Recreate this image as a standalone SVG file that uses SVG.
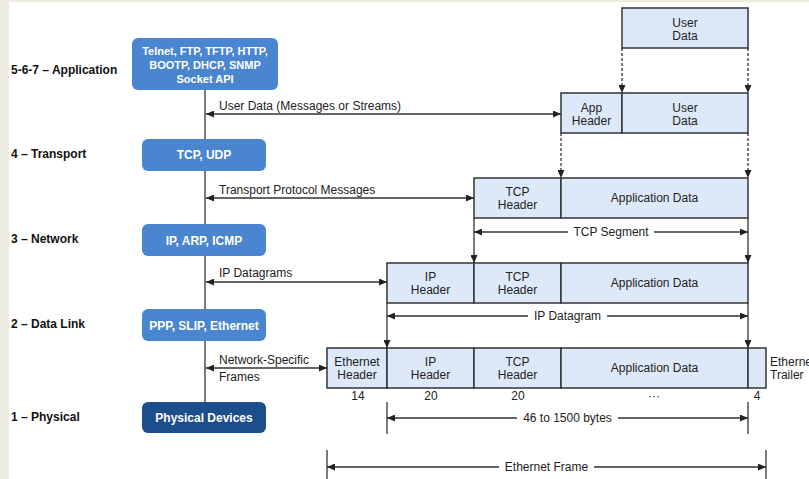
<svg xmlns="http://www.w3.org/2000/svg" width="809" height="479" viewBox="0 0 809 479">
<style>
.lay{font-family:"Liberation Sans",Arial,sans-serif;font-size:12px;font-weight:bold;fill:#111}
.bt{font-family:"Liberation Sans",Arial,sans-serif;font-size:12px;font-weight:bold;fill:#fff;text-anchor:middle}
.bt11{font-size:11px}
.pb{fill:#4a86cf}
.pd{fill:#1d4e8c}
.t{font-family:"Liberation Sans",Arial,sans-serif;font-size:12px;fill:#222}
.c{text-anchor:middle}
.cell{fill:#dde9f9;stroke:#333;stroke-width:1.5}
.ln{stroke:#333;stroke-width:1.3;fill:none}
.da{stroke:#333;stroke-width:1.3;fill:none;stroke-dasharray:3 2}
</style>
<defs>
<marker id="ah" viewBox="0 0 8 7" refX="8" refY="3.5" markerWidth="8" markerHeight="7" markerUnits="userSpaceOnUse" orient="auto-start-reverse">
<path d="M0,0 L8,3.5 L0,7 z" fill="#222"/>
</marker>
</defs>
<rect x="0" y="0" width="809" height="479" fill="#fff"/>
<rect x="0" y="0" width="9" height="479" fill="#eeece2"/>
<rect x="0" y="0" width="809" height="2" fill="#eeece2"/>

<g id="layer-labels">
<text class="lay" x="11" y="74">5-6-7 – Application</text>
<text class="lay" x="11" y="158">4 – Transport</text>
<text class="lay" x="11" y="243">3 – Network</text>
<text class="lay" x="11" y="328">2 – Data Link</text>
<text class="lay" x="11" y="421">1 – Physical</text>
</g>

<g id="connectors">
<line class="ln" x1="205" y1="90" x2="205" y2="402"/>
<line class="ln" x1="206" y1="114" x2="561" y2="114" marker-start="url(#ah)" marker-end="url(#ah)"/>
<line class="ln" x1="206" y1="198" x2="474" y2="198" marker-start="url(#ah)" marker-end="url(#ah)"/>
<line class="ln" x1="206" y1="282" x2="387" y2="282" marker-start="url(#ah)" marker-end="url(#ah)"/>
<line class="ln" x1="206" y1="368" x2="327" y2="368" marker-start="url(#ah)" marker-end="url(#ah)"/>
<line class="da" x1="622" y1="48" x2="622" y2="93" marker-end="url(#ah)"/>
<line class="da" x1="748" y1="48" x2="748" y2="93" marker-end="url(#ah)"/>
<line class="da" x1="561" y1="133" x2="561" y2="178" marker-end="url(#ah)"/>
<line class="da" x1="748" y1="133" x2="748" y2="178" marker-end="url(#ah)"/>
<line class="ln" x1="474" y1="218" x2="474" y2="263" marker-end="url(#ah)"/>
<line class="ln" x1="748" y1="218" x2="748" y2="263" marker-end="url(#ah)"/>
<line class="ln" x1="387" y1="303" x2="387" y2="348" marker-end="url(#ah)"/>
<line class="ln" x1="748" y1="303" x2="748" y2="348" marker-end="url(#ah)"/>
<line class="ln" x1="474" y1="232" x2="568" y2="232" marker-start="url(#ah)"/>
<line class="ln" x1="654" y1="232" x2="748" y2="232" marker-end="url(#ah)"/>
<line class="ln" x1="387" y1="316" x2="528" y2="316" marker-start="url(#ah)"/>
<line class="ln" x1="607" y1="316" x2="748" y2="316" marker-end="url(#ah)"/>
<line class="ln" x1="387" y1="402" x2="387" y2="434"/>
<line class="ln" x1="748" y1="402" x2="748" y2="434"/>
<line class="ln" x1="387" y1="418" x2="517" y2="418" marker-start="url(#ah)"/>
<line class="ln" x1="618" y1="418" x2="748" y2="418" marker-end="url(#ah)"/>
<line class="ln" x1="327" y1="450" x2="327" y2="479"/>
<line class="ln" x1="766" y1="450" x2="766" y2="479"/>
<line class="ln" x1="327" y1="467" x2="499" y2="467" marker-start="url(#ah)"/>
<line class="ln" x1="594" y1="467" x2="766" y2="467" marker-end="url(#ah)"/>
<text class="t" x="219" y="110">User Data (Messages or Streams)</text>
<text class="t" x="219" y="194">Transport Protocol Messages</text>
<text class="t" x="219" y="277">IP Datagrams</text>
<text class="t" x="219" y="363.5">Network-Specific</text>
<text class="t" x="219" y="380.5">Frames</text>
<text class="t c" x="611" y="236">TCP Segment</text>
<text class="t c" x="567.5" y="320">IP Datagram</text>
<text class="t c" x="567.5" y="422">46 to 1500 bytes</text>
<text class="t c" x="546.5" y="471">Ethernet Frame</text>
</g>

<g id="node-application">
<rect class="pb" x="132" y="38" width="146" height="52" rx="6"/>
<text class="bt bt11" x="205" y="55">Telnet, FTP, TFTP, HTTP,</text>
<text class="bt bt11" x="205" y="69">BOOTP, DHCP, SNMP</text>
<text class="bt bt11" x="205" y="83">Socket API</text>
</g>
<g id="node-transport">
<rect class="pb" x="142" y="139" width="124" height="32" rx="6"/>
<text class="bt" x="204" y="159">TCP, UDP</text>
</g>
<g id="node-network">
<rect class="pb" x="142" y="224" width="124" height="32" rx="6"/>
<text class="bt" x="204" y="245">IP, ARP, ICMP</text>
</g>
<g id="node-datalink">
<rect class="pb" x="142" y="309" width="124" height="32" rx="6"/>
<text class="bt" x="204" y="330">PPP, SLIP, Ethernet</text>
</g>
<g id="node-physical">
<rect class="pd" x="142" y="402" width="124" height="31" rx="6"/>
<text class="bt" x="204" y="422">Physical Devices</text>
</g>

<g id="node-userdata">
<rect class="cell" x="622" y="8" width="126" height="40"/>
<text class="t c" x="685" y="26.5">User</text>
<text class="t c" x="685" y="39.5">Data</text>
</g>
<g id="node-app-message">
<rect class="cell" x="561" y="93" width="61" height="40"/>
<rect class="cell" x="622" y="93" width="126" height="40"/>
<text class="t c" x="591.5" y="111.5">App</text>
<text class="t c" x="591.5" y="124.5">Header</text>
<text class="t c" x="685" y="111.5">User</text>
<text class="t c" x="685" y="124.5">Data</text>
</g>
<g id="node-tcp-segment">
<rect class="cell" x="474" y="178" width="87" height="40"/>
<rect class="cell" x="561" y="178" width="187" height="40"/>
<text class="t c" x="517.5" y="195.5">TCP</text>
<text class="t c" x="517.5" y="208.5">Header</text>
<text class="t c" x="654.5" y="202">Application Data</text>
</g>
<g id="node-ip-datagram">
<rect class="cell" x="387" y="263" width="87" height="40"/>
<rect class="cell" x="474" y="263" width="87" height="40"/>
<rect class="cell" x="561" y="263" width="187" height="40"/>
<text class="t c" x="430.5" y="280.5">IP</text>
<text class="t c" x="430.5" y="293.5">Header</text>
<text class="t c" x="517.5" y="280.5">TCP</text>
<text class="t c" x="517.5" y="293.5">Header</text>
<text class="t c" x="654.5" y="287">Application Data</text>
</g>
<g id="node-ethernet-frame">
<rect class="cell" x="327" y="348" width="60" height="40"/>
<rect class="cell" x="387" y="348" width="87" height="40"/>
<rect class="cell" x="474" y="348" width="87" height="40"/>
<rect class="cell" x="561" y="348" width="187" height="40"/>
<rect class="cell" x="748" y="348" width="18" height="40"/>
<text class="t c" x="357" y="365.5">Ethernet</text>
<text class="t c" x="357" y="378.5">Header</text>
<text class="t c" x="430.5" y="365.5">IP</text>
<text class="t c" x="430.5" y="378.5">Header</text>
<text class="t c" x="517.5" y="365.5">TCP</text>
<text class="t c" x="517.5" y="378.5">Header</text>
<text class="t c" x="654.5" y="372">Application Data</text>
<text class="t" x="770" y="365.5">Ethernet</text>
<text class="t" x="770" y="378.5">Trailer</text>
<text class="t c" x="358" y="400">14</text>
<text class="t c" x="431" y="400">20</text>
<text class="t c" x="518" y="400">20</text>
<text class="t c" x="654" y="400" fill="#777">···</text>
<text class="t c" x="757" y="400">4</text>
</g>
</svg>
